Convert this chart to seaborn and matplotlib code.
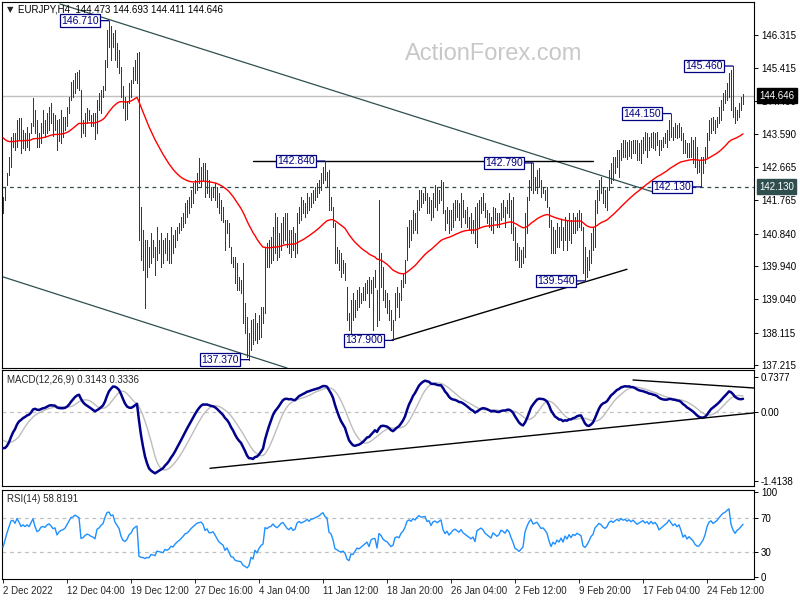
import numpy as np
import pandas as pd
import matplotlib
matplotlib.use("Agg")
import matplotlib.pyplot as plt
import seaborn as sns

# ---------------- data (EURJPY H4) ----------------
high = [
    141.85, 142.13, 142.50, 142.95, 143.50, 143.62, 143.62, 143.97, 144.03, 144.03,
    143.70, 143.62, 143.78, 143.62, 143.89, 144.58, 144.25, 143.97, 143.62, 143.89,
    144.25, 143.97, 144.17, 144.33, 144.44, 144.17, 144.10, 143.97, 144.00, 144.25,
    144.06, 144.06, 144.33, 144.61, 145.02, 145.08, 145.27, 145.30, 145.35, 144.80,
    143.97, 144.17, 144.30, 144.25, 144.10, 144.17, 144.17, 144.53, 144.72, 144.80,
    144.90, 145.63, 146.45, 146.71, 146.55, 146.37, 146.45, 146.10, 145.90, 145.43,
    144.90, 144.61, 144.50, 144.99, 145.08, 145.43, 145.63, 145.82, 145.85, 141.58,
    140.94, 140.67, 140.67, 140.48, 140.86, 140.67, 140.48, 141.03, 140.67, 140.86,
    140.67, 140.72, 140.86, 140.67, 141.03, 140.80, 140.94, 141.03, 141.14, 141.30,
    141.41, 141.69, 141.77, 141.85, 142.05, 142.24, 142.32, 142.51, 142.93, 142.68,
    142.79, 142.79, 142.60, 142.32, 142.13, 142.13, 142.24, 142.13, 141.96, 141.77,
    141.58, 141.22, 141.22, 141.14, 140.48, 140.20, 140.20, 140.03, 139.65, 139.57,
    140.03, 138.93, 138.55, 138.11, 138.46, 138.50, 138.66, 138.38, 138.60, 138.82,
    138.82, 140.48, 140.59, 140.67, 140.75, 141.03, 141.41, 141.30, 140.86, 141.14,
    141.30, 141.41, 141.41, 140.94, 140.94, 141.03, 140.86, 141.41, 141.58, 141.85,
    141.77, 141.69, 141.96, 141.85, 141.96, 142.05, 142.13, 142.24, 142.32, 142.51,
    142.68, 142.84, 142.55, 142.60, 141.85, 141.58, 141.14, 140.48, 140.39, 140.31,
    140.12, 140.03, 139.37, 138.66, 139.02, 139.21, 139.02, 139.29, 139.37, 139.21,
    139.37, 139.48, 139.57, 139.65, 139.57, 139.65, 139.84, 139.30, 141.77, 140.31,
    139.92, 139.29, 139.21, 139.02, 138.74, 138.46, 139.21, 139.37, 139.21, 139.57,
    139.76, 140.12, 141.03, 141.22, 141.22, 141.49, 141.41, 141.77, 142.05, 142.05,
    141.96, 142.10, 141.96, 141.85, 141.77, 141.96, 142.18, 142.13, 142.05, 142.32,
    142.27, 141.49, 141.58, 141.49, 141.49, 141.69, 141.77, 141.77, 141.69, 141.96,
    141.77, 141.49, 141.58, 141.30, 141.41, 141.22, 141.58, 141.69, 141.77, 141.85,
    141.96, 141.69, 141.49, 141.41, 141.30, 141.58, 141.55, 141.41, 141.41, 141.69,
    141.77, 141.58, 141.77, 141.96, 141.77, 141.85, 141.03, 140.59, 140.48, 140.39,
    140.48, 141.41, 141.85, 142.32, 142.79, 142.79, 142.40, 142.60, 142.65, 142.32,
    142.13, 142.05, 142.13, 141.58, 141.22, 141.03, 140.94, 141.14, 141.03, 141.22,
    141.03, 141.30, 141.22, 141.41, 141.22, 141.41, 141.30, 141.41, 141.49, 141.41,
    141.03, 140.48, 140.20, 140.39, 140.86, 141.03, 141.77, 142.05, 142.32, 142.40,
    142.13, 142.05, 142.13, 142.60, 142.79, 142.95, 142.95, 143.15, 143.15, 143.34,
    143.42, 143.42, 143.38, 143.42, 143.40, 143.42, 143.42, 143.42, 143.34, 143.42,
    143.50, 143.64, 143.62, 143.50, 143.62, 143.64, 143.62, 143.64, 143.42, 143.42,
    143.50, 143.62, 143.70, 143.97, 144.15, 143.78, 143.89, 143.84, 143.89, 143.78,
    143.62, 143.42, 143.34, 143.34, 143.50, 143.42, 143.50, 143.23, 142.87, 142.95,
    142.95, 143.23, 143.62, 143.97, 144.03, 144.06, 143.97, 144.06, 144.33, 144.53,
    144.72, 144.80, 144.99, 145.27, 145.35, 145.46, 144.33, 144.25, 144.44, 144.61,
    144.693,
]
low = [
    141.41, 141.77, 142.18, 142.46, 142.68, 143.23, 143.15, 143.23, 143.45, 143.07,
    143.20, 143.15, 143.23, 143.15, 143.62, 143.80, 143.62, 143.23, 143.23, 143.34,
    143.62, 143.50, 143.62, 143.70, 143.89, 143.54, 143.70, 143.15, 143.40, 143.34,
    143.50, 143.70, 143.82, 144.17, 144.53, 144.61, 144.72, 144.85, 144.80, 143.50,
    143.62, 143.54, 143.89, 143.97, 143.80, 143.82, 143.46, 143.62, 144.25, 144.17,
    144.62, 144.80, 145.43, 145.98, 145.63, 145.98, 145.63, 145.43, 145.27, 144.61,
    144.30, 143.97, 144.00, 144.44, 144.61, 144.99, 145.08, 144.99, 140.67, 140.12,
    139.84, 138.79, 139.65, 139.92, 140.03, 140.20, 139.70, 140.12, 140.31, 139.92,
    140.03, 140.31, 140.12, 140.03, 140.03, 140.31, 140.48, 140.67, 140.86, 140.94,
    141.03, 141.14, 141.30, 141.41, 141.58, 141.69, 141.96, 142.05, 142.24, 142.13,
    142.32, 141.85, 141.96, 141.85, 141.77, 141.85, 141.77, 141.58, 141.41, 141.22,
    141.16, 140.39, 140.86, 140.48, 140.03, 139.92, 139.48, 139.29, 139.29, 139.21,
    138.38, 138.11, 137.45, 137.37, 137.64, 137.80, 137.91, 137.83, 137.95, 138.00,
    138.38, 138.66, 139.92, 139.92, 140.03, 140.12, 140.31, 140.12, 140.20, 140.39,
    140.59, 140.67, 140.48, 140.31, 140.20, 140.39, 140.20, 140.31, 141.14, 141.22,
    141.41, 141.30, 141.41, 141.49, 141.58, 141.69, 141.77, 141.85, 141.96, 142.05,
    142.24, 142.32, 142.13, 141.49, 141.49, 141.03, 140.03, 140.03, 139.84, 139.65,
    139.76, 139.57, 138.46, 138.19, 138.11, 138.46, 138.55, 138.74, 138.82, 138.93,
    139.02, 139.02, 139.21, 138.82, 139.21, 138.19, 139.37, 138.30, 138.46, 139.37,
    139.02, 138.82, 138.66, 138.46, 138.19, 137.90, 138.46, 138.82, 138.55, 139.02,
    139.37, 139.48, 140.12, 140.48, 140.67, 140.86, 140.94, 140.86, 141.49, 141.58,
    141.69, 141.77, 141.41, 141.41, 141.22, 141.30, 141.58, 141.49, 141.69, 141.77,
    141.41, 140.94, 141.14, 140.86, 140.94, 141.03, 141.22, 141.30, 141.22, 141.03,
    141.30, 141.14, 141.03, 140.94, 140.86, 140.86, 140.59, 140.48, 141.03, 141.41,
    141.49, 141.30, 141.14, 141.03, 140.94, 140.86, 141.22, 141.03, 141.03, 141.22,
    141.30, 141.03, 141.41, 141.30, 140.86, 140.67, 140.12, 140.12, 139.92, 139.92,
    140.03, 140.20, 140.86, 141.77, 142.05, 141.96, 142.05, 141.96, 142.13, 141.85,
    141.96, 141.77, 141.58, 141.03, 140.31, 140.31, 140.31, 140.48, 140.48, 140.67,
    140.39, 140.67, 140.39, 140.67, 140.59, 140.86, 140.86, 140.94, 141.03, 140.94,
    139.76, 139.54, 139.65, 139.84, 140.03, 140.39, 140.48, 141.41, 141.77, 141.96,
    141.69, 141.58, 141.49, 142.05, 142.24, 142.32, 142.51, 142.68, 142.40, 142.87,
    142.95, 142.95, 142.90, 142.98, 142.92, 143.07, 143.07, 142.87, 142.87, 142.79,
    143.07, 143.15, 142.95, 143.15, 143.23, 143.20, 143.15, 143.29, 143.01, 143.15,
    143.23, 143.34, 143.23, 143.42, 143.50, 143.42, 143.50, 143.48, 143.50, 143.42,
    143.07, 143.07, 142.95, 142.95, 142.95, 142.79, 142.68, 142.51, 142.55, 142.13,
    142.51, 142.79, 142.95, 143.42, 143.62, 143.70, 143.62, 143.78, 143.89, 143.97,
    144.25, 144.44, 144.53, 144.61, 144.25, 144.06, 143.89, 143.97, 144.06, 144.25,
    144.411,
]
close = [
    141.75, 142.05, 142.45, 142.85, 143.40, 143.45, 143.30, 143.80, 143.60, 143.35,
    143.50, 143.40, 143.55, 143.45, 143.80, 144.20, 143.75, 143.40, 143.50, 143.80,
    143.85, 143.80, 144.00, 144.10, 144.00, 143.85, 143.90, 143.50, 143.70, 143.80,
    143.85, 143.95, 144.20, 144.50, 144.85, 144.90, 145.10, 145.05, 145.00, 143.80,
    143.85, 144.00, 144.10, 144.05, 143.95, 143.90, 143.80, 144.40, 144.50, 144.70,
    144.85, 145.50, 146.20, 146.30, 146.10, 146.20, 145.80, 145.60, 145.40, 144.80,
    144.40, 144.30, 144.45, 144.80, 144.95, 145.30, 145.50, 145.60, 141.00, 140.60,
    140.50, 140.20, 140.30, 140.20, 140.50, 140.40, 140.20, 140.60, 140.50, 140.40,
    140.30, 140.55, 140.40, 140.50, 140.70, 140.60, 140.80, 140.95, 141.05, 141.20,
    141.35, 141.55, 141.60, 141.75, 141.95, 142.10, 142.25, 142.40, 142.45, 142.50,
    142.40, 142.10, 142.20, 142.00, 142.00, 142.05, 141.90, 141.70, 141.50, 141.40,
    141.30, 140.90, 141.00, 140.60, 140.10, 140.05, 139.60, 139.45, 139.40, 139.30,
    138.60, 138.30, 137.80, 137.90, 138.30, 138.00, 138.50, 138.10, 138.40, 138.60,
    138.70, 140.30, 140.20, 140.40, 140.50, 140.80, 140.60, 140.50, 140.70, 141.00,
    141.10, 140.90, 140.70, 140.60, 140.80, 140.60, 140.70, 141.30, 141.50, 141.40,
    141.50, 141.60, 141.80, 141.70, 141.90, 141.95, 142.05, 142.15, 142.25, 142.45,
    142.60, 142.45, 142.40, 141.70, 141.60, 141.20, 140.30, 140.20, 140.00, 139.90,
    139.95, 139.70, 138.70, 138.40, 138.80, 138.70, 138.90, 139.10, 139.00, 139.10,
    139.20, 139.30, 139.40, 139.00, 139.40, 139.50, 139.50, 138.60, 139.80, 139.60,
    139.20, 139.00, 138.90, 138.60, 138.30, 138.40, 139.00, 139.10, 139.00, 139.40,
    139.60, 140.00, 140.80, 141.00, 140.90, 141.30, 141.20, 141.60, 141.90, 141.80,
    141.85, 141.90, 141.60, 141.70, 141.40, 141.80, 141.90, 141.80, 141.95, 142.10,
    141.50, 141.20, 141.40, 141.10, 141.30, 141.50, 141.60, 141.50, 141.40, 141.60,
    141.40, 141.30, 141.20, 141.10, 141.00, 141.10, 140.80, 141.50, 141.60, 141.70,
    141.60, 141.40, 141.30, 141.20, 141.10, 141.40, 141.30, 141.20, 141.30, 141.55,
    141.50, 141.40, 141.60, 141.50, 141.20, 140.90, 140.40, 140.30, 140.10, 140.20,
    140.30, 141.20, 141.70, 142.20, 142.50, 142.20, 142.30, 142.40, 142.20, 142.00,
    142.05, 141.90, 141.70, 141.10, 140.50, 140.80, 140.60, 140.90, 140.70, 141.00,
    140.60, 141.10, 140.80, 141.20, 140.90, 141.20, 141.10, 141.30, 141.20, 141.10,
    140.00, 139.80, 140.00, 140.30, 140.70, 140.90, 141.60, 141.90, 142.20, 142.10,
    141.90, 141.80, 142.00, 142.50, 142.70, 142.60, 142.80, 143.00, 142.90, 143.20,
    143.10, 143.20, 143.10, 143.25, 143.15, 143.30, 143.20, 143.10, 143.20, 143.30,
    143.40, 143.30, 143.40, 143.30, 143.50, 143.40, 143.50, 143.40, 143.20, 143.30,
    143.40, 143.50, 143.60, 143.80, 143.70, 143.60, 143.70, 143.60, 143.70, 143.50,
    143.20, 143.30, 143.10, 143.20, 143.10, 143.00, 142.80, 142.70, 142.70, 142.80,
    142.90, 143.10, 143.50, 143.80, 143.90, 143.80, 143.90, 144.00, 144.20, 144.40,
    144.60, 144.70, 144.90, 145.10, 144.50, 144.20, 144.00, 144.20, 144.30, 144.47,
    144.646,
]

# indicator starting states (levels shown at the left edge of the picture)
ma55_seed = 143.55
ema12_seed = 142.85
ema26_seed = 143.55
signal_seed = -0.55
rsi_gain_seed = 0.06
rsi_loss_seed = 0.11

last_price = 144.646
support_level = 142.130

date_tick_bars = [0, 32, 64, 96, 128, 160, 192, 224, 256, 288, 320, 352]
date_tick_labels = ["2 Dec 2022", "12 Dec 04:00", "19 Dec 12:00", "27 Dec 16:00",
                    "4 Jan 04:00", "11 Jan 12:00", "18 Jan 20:00", "26 Jan 04:00",
                    "2 Feb 12:00", "9 Feb 20:00", "17 Feb 04:00", "24 Feb 12:00"]
price_ticks = [146.315, 145.415, 144.490, 143.590, 142.665, 141.765,
               140.840, 139.940, 139.040, 138.115, 137.215]
macd_ticks = [0.7377, 0.0, -1.4138]
macd_tick_labels = ["0.7377", "0.00", "-1.4138"]
rsi_ticks = [100, 70, 30, 0]

# swing labels: bar index, price, text
swing_bars = [53, 123, 161, 195, 265, 291, 334, 349, 365]
swing_prices = [146.71, 137.37, 142.84, 137.90, 142.79, 139.54, 144.15, 142.13, 145.46]
swing_texts = ["146.710", "137.370", "142.840", "137.900", "142.790",
               "139.540", "144.150", "142.130", "145.460"]

# trend lines: (bar indices, values)
chan_upper = ([28.5, 325], [147.17, 141.99])
chan_lower = ([0, 142], [139.65, 137.14])
resist_line = ([125, 295], [142.84, 142.84])
rising_line = ([194.5, 312], [137.91, 139.86])
macd_rise_line = ([103.5, 376.5], [-1.15, -0.004])
macd_fall_line = ([315, 377.5], [0.67, 0.50])

# ---------------- indicators ----------------
n = min(len(high), len(low), len(close))
df = pd.DataFrame({"bar": np.arange(n), "high": high[:n], "low": low[:n], "close": close[:n]})
c = df["close"]


def ema(series, span, seed):
    s = pd.concat([pd.Series([seed]), series], ignore_index=True)
    return s.ewm(span=span, adjust=False).mean().iloc[1:].reset_index(drop=True)


df["ma55"] = ema(c, 55, ma55_seed)
df["macd"] = ema(c, 12, ema12_seed) - ema(c, 26, ema26_seed)
sig = pd.concat([pd.Series([signal_seed] * 8), df["macd"]], ignore_index=True)
df["signal"] = sig.rolling(9).mean().iloc[8:].reset_index(drop=True)

diff = c.diff().fillna(0.0)
ag, al = rsi_gain_seed, rsi_loss_seed
rsi = []
for d in diff:
    ag = (ag * 13 + max(d, 0.0)) / 14
    al = (al * 13 + max(-d, 0.0)) / 14
    rsi.append(100 - 100 / (1 + ag / al))
df["rsi"] = rsi

# ---------------- figure ----------------
sns.set_style("white")
plt.rcParams["font.family"] = ["Liberation Sans", "DejaVu Sans"]
plt.rcParams["axes.linewidth"] = 0.8

W, H = 800, 600
fig = plt.figure(figsize=(8, 6), dpi=100)
fig.patch.set_facecolor("white")


def rect(x0, y0, x1, y1):
    return [x0 / W, 1 - y1 / H, (x1 - x0) / W, (y1 - y0) / H]


ax = fig.add_axes(rect(2, 2, 754, 368))
axm = fig.add_axes(rect(2, 370, 754, 486))
axr = fig.add_axes(rect(2, 490, 754, 579))

bar_col = "#17425C"
navy = "#000080"
slate = "#2F4F4F"

for a in (ax, axm, axr):
    a.set_xlim(-0.5, 375.5)
    a.set_facecolor("white")
    for s in a.spines.values():
        s.set_color("black")
        s.set_linewidth(0.8)
    a.yaxis.tick_right()
    a.tick_params(axis="y", which="both", direction="out", length=3, width=0.7,
                  labelsize=7, pad=2, colors="black", left=False, right=True)
    a.tick_params(axis="x", bottom=False, labelbottom=False)
    a.set_xlabel("")
    a.set_ylabel("")

# ---- main price panel
ax.set_ylim(137.14, 147.224)
ax.set_yticks(price_ticks)
ax.set_yticklabels([f"{v:.3f}" for v in price_ticks])
ax.axhline(last_price, color="#C0C0C0", lw=1, zorder=1)
ax.axhline(support_level, color=slate, lw=0.9, ls=(0, (3, 3)), zorder=1)
ax.plot(*chan_upper, color=slate, lw=0.9, zorder=2)
ax.plot(*chan_lower, color=slate, lw=0.9, zorder=2)
ax.plot(*resist_line, color="black", lw=1, zorder=2)
ax.plot(*rising_line, color="black", lw=1, zorder=2)
ax.vlines(df["bar"], df["low"], df["high"], color=bar_col, lw=0.65, antialiased=False, zorder=3)
sns.lineplot(data=df, x="bar", y="ma55", ax=ax, color="#FF0000", lw=1, legend=False, zorder=4)
ax.set_xlabel("")
ax.set_ylabel("")

for b, p, t in zip(swing_bars, swing_prices, swing_texts):
    ax.annotate(t, xy=(b, p), xytext=(-10, 0), textcoords="offset pixels",
                ha="right", va="center", fontsize=7.5, color=navy, zorder=6,
                bbox=dict(boxstyle="square,pad=0.12", fc="white", ec=navy, lw=0.9),
                arrowprops=dict(arrowstyle="-", color=navy, lw=0.9, shrinkA=0, shrinkB=0))

ax.annotate(f"{last_price:.3f}", xy=(1, last_price), xycoords=("axes fraction", "data"),
            xytext=(5, 0), textcoords="offset pixels", ha="left", va="center",
            fontsize=7, color="white", annotation_clip=False, zorder=10,
            bbox=dict(boxstyle="square,pad=0.25", fc="black", ec="black"))
ax.annotate(f"{support_level:.3f}", xy=(1, support_level), xycoords=("axes fraction", "data"),
            xytext=(5, 0), textcoords="offset pixels", ha="left", va="center",
            fontsize=7, color="white", annotation_clip=False, zorder=10,
            bbox=dict(boxstyle="square,pad=0.25", fc=slate, ec=slate))

# ---- MACD panel
axm.set_ylim(-1.515, 0.876)
axm.set_yticks(macd_ticks)
axm.set_yticklabels(macd_tick_labels)
axm.axhline(0, color="#C0C0C0", lw=0.9, ls=(0, (3, 3)), zorder=1)
sns.lineplot(data=df, x="bar", y="signal", ax=axm, color="#BDBDBD", lw=1, legend=False, zorder=2)
sns.lineplot(data=df, x="bar", y="macd", ax=axm, color="#00008B", lw=1.8, legend=False, zorder=3)
axm.plot(*macd_rise_line, color="black", lw=1, zorder=4)
axm.plot(*macd_fall_line, color="black", lw=1, zorder=4)
axm.set_xlabel("")
axm.set_ylabel("")

# ---- RSI panel
axr.set_ylim(-2.1, 102.6)
axr.set_yticks(rsi_ticks)
axr.set_yticklabels([str(v) for v in rsi_ticks])
axr.axhline(70, color="#C0C0C0", lw=0.9, ls=(0, (3, 3)), zorder=1)
axr.axhline(30, color="#C0C0C0", lw=0.9, ls=(0, (3, 3)), zorder=1)
sns.lineplot(data=df, x="bar", y="rsi", ax=axr, color="#1E90FF", lw=1, legend=False, zorder=3)
axr.set_xlabel("")
axr.set_ylabel("")
axr.set_xticks(date_tick_bars)
axr.set_xticklabels(date_tick_labels, ha="left", fontsize=7)
axr.tick_params(axis="x", bottom=True, labelbottom=True, direction="out",
                length=3, width=0.7, pad=2)

for a in (ax, axm, axr):
    a.set_xlim(-0.5, 375.5)

# ---- texts
fig.text(7 / W, 1 - 10 / H, "\u25BC", fontsize=6, va="center", family="DejaVu Sans")
fig.text(18 / W, 1 - 10 / H, "EURJPY,H4  144.473 144.693 144.411 144.646",
         fontsize=7, va="center", color="black")
fig.text(405 / W, 1 - 60 / H, "ActionForex.com", fontsize=17, color="#C8C8C8", va="baseline")
fig.text(7 / W, 1 - 380 / H, "MACD(12,26,9) 0.3143 0.3336", fontsize=7, va="center")
fig.text(7 / W, 1 - 499 / H, "RSI(14) 58.8191", fontsize=7, va="center")

fig.savefig("out.png", dpi=100, facecolor="white")
